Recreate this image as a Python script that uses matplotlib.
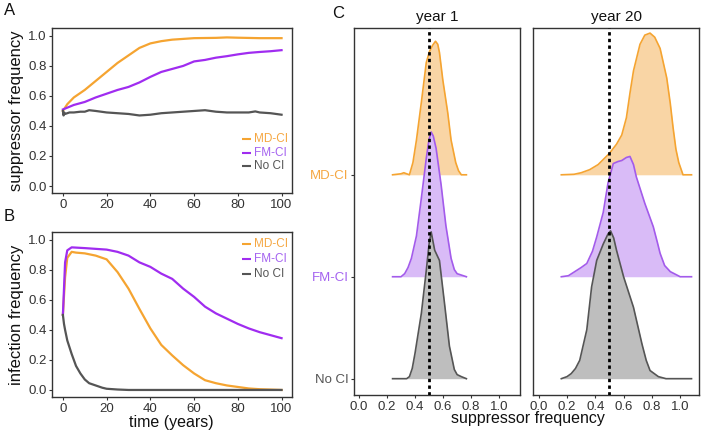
import numpy as np
import matplotlib
matplotlib.use("Agg")
import matplotlib.pyplot as plt

plt.rcParams['font.family'] = ['Liberation Sans', 'DejaVu Sans']

# colours
ORANGE = '#F5A431'
PURPLE = '#A02CF0'
GREY = '#555555'
FILLS = {'MD-CI': '#F9D5A5', 'FM-CI': '#D9BBF7', 'No CI': '#BEBEBE'}
LINES = {'MD-CI': ORANGE, 'FM-CI': '#A35BEB', 'No CI': GREY}
LABELS = {'MD-CI': '#F5A742', 'FM-CI': '#A462F0', 'No CI': GREY}

series = ['MD-CI', 'FM-CI', 'No CI']

# panel A: suppressor frequency over time
t_md_a = [0, 2, 5, 10, 15, 20, 25, 30, 35, 40, 45, 50, 55, 60, 70, 75, 80, 90, 100]
md_a = [0.50, 0.545, 0.59, 0.64, 0.70, 0.76, 0.82, 0.87, 0.92, 0.95, 0.965, 0.975,
        0.98, 0.985, 0.987, 0.99, 0.988, 0.985, 0.985]
t_fm_a = [0, 5, 10, 15, 20, 25, 30, 35, 40, 45, 50, 55, 60, 65, 70, 75, 80, 85, 90, 95, 100]
fm_a = [0.51, 0.54, 0.56, 0.59, 0.615, 0.64, 0.66, 0.69, 0.727, 0.76, 0.78, 0.80,
        0.83, 0.84, 0.855, 0.865, 0.877, 0.887, 0.893, 0.898, 0.905]
t_no_a = [0, 0.3, 0.6, 1, 3, 5, 8, 10, 12, 15, 20, 25, 30, 35, 40, 45, 50, 55, 60, 65,
          70, 75, 80, 85, 88, 90, 95, 100]
no_a = [0.50, 0.47, 0.49, 0.48, 0.49, 0.49, 0.495, 0.495, 0.505, 0.50, 0.49, 0.485,
        0.48, 0.47, 0.475, 0.485, 0.49, 0.495, 0.50, 0.505, 0.495, 0.49, 0.49, 0.49,
        0.497, 0.49, 0.485, 0.475]

# panel B: infection frequency over time
t_md_b = [0, 1, 2, 4, 6, 10, 15, 20, 25, 30, 35, 40, 45, 50, 55, 60, 65, 70, 75, 80,
          85, 90, 100]
md_b = [0.50, 0.75, 0.88, 0.92, 0.915, 0.91, 0.895, 0.87, 0.785, 0.675, 0.54, 0.41,
        0.30, 0.23, 0.165, 0.11, 0.065, 0.045, 0.03, 0.02, 0.01, 0.005, 0.0]
t_fm_b = [0, 1, 2, 4, 10, 20, 25, 30, 35, 40, 45, 50, 55, 60, 65, 70, 75, 80, 85, 90,
          95, 100]
fm_b = [0.50, 0.85, 0.93, 0.95, 0.945, 0.935, 0.92, 0.895, 0.85, 0.82, 0.775, 0.74,
        0.675, 0.62, 0.555, 0.51, 0.475, 0.44, 0.41, 0.385, 0.365, 0.345]
t_no_b = [0, 0.5, 1, 2, 4, 6, 8, 10, 12, 15, 18, 20, 25, 30, 100]
no_b = [0.50, 0.44, 0.40, 0.33, 0.24, 0.16, 0.11, 0.07, 0.045, 0.03, 0.015, 0.008,
        0.003, 0.0, 0.0]

# panel C: ridgeline densities (x = suppressor frequency, h = ridge height)
y1_md_x = [0.24, 0.30, 0.32, 0.34, 0.36, 0.385, 0.41, 0.445, 0.48, 0.503, 0.525, 0.546,
           0.562, 0.574, 0.598, 0.633, 0.657, 0.69, 0.71, 0.73, 0.766]
y1_md_h = [0.0, 0.01, 0.02, 0.01, 0.0, 0.12, 0.34, 0.71, 1.10, 1.21, 1.27, 1.31,
           1.28, 1.20, 0.93, 0.61, 0.34, 0.12, 0.04, 0.0, 0.0]
y1_fm_x = [0.24, 0.30, 0.326, 0.35, 0.374, 0.41, 0.445, 0.48, 0.50, 0.515, 0.53, 0.55,
           0.586, 0.62, 0.657, 0.68, 0.70, 0.766]
y1_fm_h = [0.0, 0.0, 0.03, 0.09, 0.18, 0.40, 0.77, 1.16, 1.35, 1.42, 1.38, 1.26,
           0.90, 0.50, 0.18, 0.07, 0.03, 0.0]
y1_no_x = [0.24, 0.34, 0.36, 0.38, 0.40, 0.445, 0.48, 0.50, 0.515, 0.54, 0.574, 0.61,
           0.645, 0.68, 0.70, 0.73, 0.766]
y1_no_h = [0.0, 0.0, 0.02, 0.10, 0.25, 0.64, 1.06, 1.32, 1.44, 1.26, 1.16, 0.74,
           0.32, 0.09, 0.04, 0.02, 0.0]

y20_md_x = [0.16, 0.25, 0.30, 0.36, 0.42, 0.50, 0.55, 0.587, 0.62, 0.645, 0.67, 0.716,
            0.75, 0.787, 0.82, 0.858, 0.905, 0.93, 0.95, 0.97, 0.99, 1.02, 1.08]
y20_md_h = [0.0, 0.005, 0.02, 0.05, 0.10, 0.21, 0.30, 0.39, 0.56, 0.80, 1.02, 1.28,
            1.37, 1.39, 1.35, 1.24, 0.95, 0.70, 0.46, 0.25, 0.12, 0.0, 0.0]
y20_fm_x = [0.16, 0.21, 0.255, 0.30, 0.34, 0.38, 0.41, 0.456, 0.49, 0.527, 0.56, 0.587,
            0.62, 0.645, 0.67, 0.69, 0.75, 0.81, 0.84, 0.858, 0.89, 0.93, 1.00, 1.08]
y20_fm_h = [0.0, 0.01, 0.05, 0.09, 0.13, 0.25, 0.39, 0.63, 0.92, 1.11, 1.13, 1.14,
            1.17, 1.18, 1.10, 0.98, 0.72, 0.49, 0.33, 0.23, 0.11, 0.05, 0.0, 0.0]
y20_no_x = [0.16, 0.20, 0.23, 0.26, 0.29, 0.34, 0.374, 0.41, 0.456, 0.49, 0.508, 0.53,
            0.55, 0.60, 0.67, 0.70, 0.73, 0.76, 0.787, 0.846, 0.90, 1.08]
y20_no_h = [0.0, 0.02, 0.05, 0.10, 0.18, 0.48, 0.90, 1.16, 1.32, 1.42, 1.45, 1.38,
            1.26, 1.00, 0.70, 0.52, 0.34, 0.18, 0.08, 0.02, 0.0, 0.0]

ridge_pos = {'MD-CI': 3, 'FM-CI': 2, 'No CI': 1}

fig = plt.figure(figsize=(7.09, 4.30), dpi=100)


def style_axes(ax):
    for s in ax.spines.values():
        s.set_color('#333333')
        s.set_linewidth(1.0)
    ax.tick_params(colors='#333333', labelsize=9.5, length=2.5, width=0.8, pad=1.5)


def legend_text(ax, x0, ys):
    for name, y in zip(series, ys):
        col = PURPLE if name == 'FM-CI' else LINES[name]
        ax.plot([x0, x0 + 0.035], [y, y], transform=ax.transAxes, color=col,
                lw=1.5, solid_capstyle='butt')
        ax.text(x0 + 0.05, y, name, transform=ax.transAxes, color=LABELS[name],
                fontsize=8.5, va='center', ha='left')


# panel A
axA = fig.add_axes([0.0733, 0.551, 0.338, 0.384])
axA.plot(t_md_a, md_a, color=ORANGE, lw=1.6)
axA.plot(t_fm_a, fm_a, color=PURPLE, lw=1.6)
axA.plot(t_no_a, no_a, color=GREY, lw=1.6)
axA.set_xlim(-5, 104.6)
axA.set_ylim(-0.047, 1.053)
axA.set_xticks([0, 20, 40, 60, 80, 100])
axA.set_yticks([0.0, 0.2, 0.4, 0.6, 0.8, 1.0])
axA.set_yticklabels(['0.0', '0.2', '0.4', '0.6', '0.8', '1.0'])
axA.set_ylabel('suppressor frequency', fontsize=12, color='#111111', labelpad=3)
style_axes(axA)
legend_text(axA, 0.795, [0.33, 0.245, 0.165])

# panel B
axB = fig.add_axes([0.0733, 0.0767, 0.338, 0.384])
axB.plot(t_md_b, md_b, color=ORANGE, lw=1.6)
axB.plot(t_fm_b, fm_b, color=PURPLE, lw=1.6)
axB.plot(t_no_b, no_b, color=GREY, lw=1.6)
axB.set_xlim(-5, 104.6)
axB.set_ylim(-0.047, 1.053)
axB.set_xticks([0, 20, 40, 60, 80, 100])
axB.set_yticks([0.0, 0.2, 0.4, 0.6, 0.8, 1.0])
axB.set_yticklabels(['0.0', '0.2', '0.4', '0.6', '0.8', '1.0'])
axB.set_ylabel('infection frequency', fontsize=12, color='#111111', labelpad=3)
axB.set_xlabel('time (years)', fontsize=11.5, color='#111111', labelpad=0)
style_axes(axB)
legend_text(axB, 0.795, [0.925, 0.835, 0.745])

# panel C
ridges = {
    'year 1': [(y1_md_x, y1_md_h), (y1_fm_x, y1_fm_h), (y1_no_x, y1_no_h)],
    'year 20': [(y20_md_x, y20_md_h), (y20_fm_x, y20_fm_h), (y20_no_x, y20_no_h)],
}
lefts = {'year 1': 0.4993, 'year 20': 0.7518}
xlims = {'year 1': (-0.035, 1.15), 'year 20': (-0.04, 1.135)}

for title, data in ridges.items():
    ax = fig.add_axes([lefts[title], 0.0814, 0.2345, 0.8535])
    for name, (xs, hs) in zip(series, data):
        base = ridge_pos[name]
        xs = np.array(xs)
        ys = base + np.array(hs)
        ax.fill_between(xs, base, ys, color=FILLS[name], lw=0)
        ax.plot(xs, ys, color=LINES[name], lw=1.2)
    ax.axvline(0.5, color='black', ls=(0, (1.2, 1.2)), lw=2.0, zorder=5)
    ax.set_xlim(*xlims[title])
    ax.set_ylim(0.84, 4.44)
    ax.set_xticks([0.0, 0.2, 0.4, 0.6, 0.8, 1.0])
    ax.set_xticklabels(['0.0', '0.2', '0.4', '0.6', '0.8', '1.0'])
    ax.set_title(title, fontsize=11, color='#111111', pad=5)
    style_axes(ax)
    if title == 'year 1':
        ax.set_yticks([ridge_pos[n] for n in series])
        ax.set_yticklabels(series, fontsize=9.5)
        for lab, name in zip(ax.get_yticklabels(), series):
            lab.set_color(LABELS[name])
    else:
        ax.set_yticks([])

fig.text(0.744, 0.026, 'suppressor frequency', fontsize=11.5, color='#111111',
         ha='center', va='center')

fig.text(0.005, 0.965, 'A', fontsize=12, color='#111111')
fig.text(0.005, 0.487, 'B', fontsize=12, color='#111111')
fig.text(0.468, 0.958, 'C', fontsize=12, color='#111111')

fig.savefig('out.png', dpi=100)
